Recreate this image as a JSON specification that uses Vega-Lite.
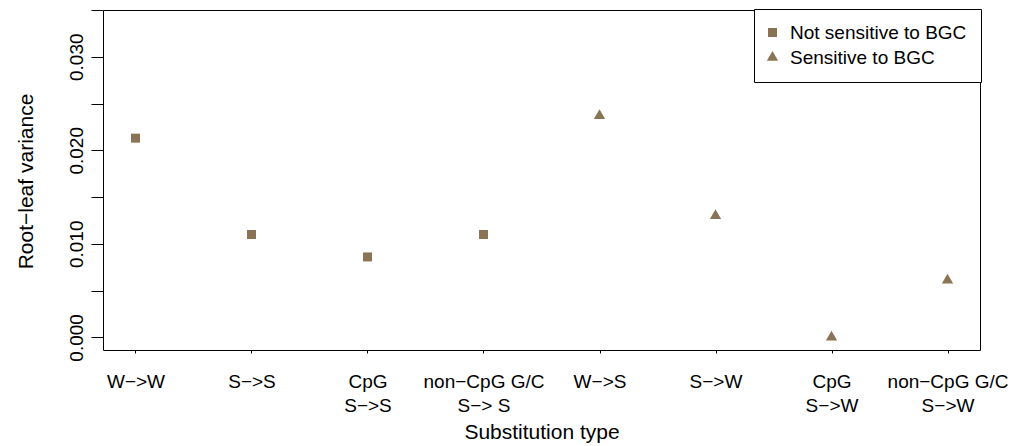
{
  "$schema": "https://vega.github.io/schema/vega-lite/v6.json",
  "autosize": {"type": "none"},
  "width": 877,
  "height": 340,
  "padding": {"left": 103, "top": 10, "right": 31, "bottom": 96},
  "background": "white",
  "data": {
    "values": [
      {"type": "W−>W", "variance": 0.0213, "group": "Not sensitive to BGC"},
      {"type": "S−>S", "variance": 0.0110, "group": "Not sensitive to BGC"},
      {"type": "CpG\nS−>S", "variance": 0.0086, "group": "Not sensitive to BGC"},
      {"type": "non−CpG G/C\nS−> S", "variance": 0.0110, "group": "Not sensitive to BGC"},
      {"type": "W−>S", "variance": 0.0237, "group": "Sensitive to BGC"},
      {"type": "S−>W", "variance": 0.0130, "group": "Sensitive to BGC"},
      {"type": "CpG\nS−>W", "variance": 0.0000, "group": "Sensitive to BGC"},
      {"type": "non−CpG G/C\nS−>W", "variance": 0.0061, "group": "Sensitive to BGC"}
    ]
  },
  "mark": {"type": "point", "filled": true, "opacity": 1, "color": "#8B7355", "strokeWidth": 0, "size": 100},
  "encoding": {
    "x": {
      "field": "type",
      "type": "nominal",
      "sort": null,
      "scale": {"type": "point", "padding": 0.28},
      "axis": {
        "title": "Substitution type",
        "labelAngle": 0,
        "labelExpr": "split(datum.label, '\\n')",
        "labelLineHeight": 24,
        "labelBaseline": "top",
        "labelAlign": "center",
        "labelPadding": 19,
        "tickSize": 3,
        "titleY": 88,
        "titleBaseline": "alphabetic",
        "titleAnchor": "middle",
        "encode": {
          "labels": {"update": {"dy": {"signal": "indexof(datum.value, '\\n') >= 0 ? -3 : 0"}}}
        }
      }
    },
    "y": {
      "field": "variance",
      "type": "quantitative",
      "scale": {"domain": [-0.00135, 0.035], "nice": false, "zero": false},
      "axis": {
        "title": "Root−leaf variance",
        "values": [0, 0.005, 0.01, 0.015, 0.02, 0.025, 0.03, 0.035],
        "labelExpr": "round(datum.value * 1000) % 10 === 0 ? format(datum.value, '.3f') : ''",
        "labelAngle": -90,
        "labelAlign": "center",
        "labelBaseline": "alphabetic",
        "labelPadding": 9,
        "tickSize": 12,
        "titleAngle": -90,
        "titleX": -71,
        "titleY": 171,
        "titleAlign": "center",
        "titleBaseline": "alphabetic"
      }
    },
    "shape": {
      "field": "group",
      "type": "nominal",
      "scale": {
        "domain": ["Not sensitive to BGC", "Sensitive to BGC"],
        "range": ["M-0.9,-0.9H0.9V0.9H-0.9Z", "M0,-1.3L1.126,0.65L-1.126,0.65Z"]
      },
      "legend": {
        "title": null,
        "orient": "none",
        "legendX": 651,
        "legendY": -1,
        "padding": 14,
        "strokeColor": "black",
        "fillColor": "white",
        "cornerRadius": 0,
        "labelFont": "Liberation Sans",
        "labelFontSize": 19,
        "labelColor": "black",
        "labelLimit": 400,
        "labelOffset": 8,
        "rowPadding": 5,
        "symbolSize": 100,
        "symbolOffset": -5,
        "symbolFillColor": "#8B7355",
        "symbolStrokeWidth": 0
      }
    }
  },
  "config": {
    "font": "Liberation Sans",
    "view": {"stroke": "black", "strokeWidth": 1},
    "axis": {
      "grid": false,
      "domain": false,
      "tickColor": "black",
      "tickWidth": 1,
      "labelColor": "black",
      "labelFont": "Liberation Sans",
      "labelFontSize": 19,
      "labelOverlap": false,
      "labelFlush": false,
      "labelBound": false,
      "titleColor": "black",
      "titleFont": "Liberation Sans",
      "titleFontSize": 21,
      "titleFontWeight": "normal"
    }
  }
}
